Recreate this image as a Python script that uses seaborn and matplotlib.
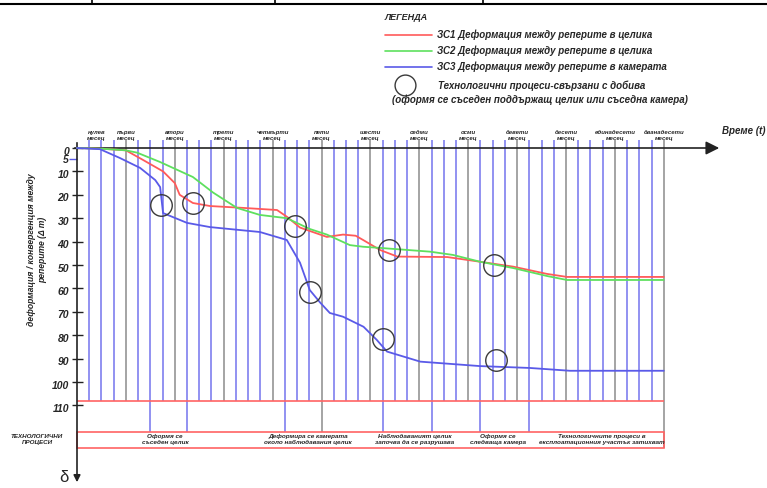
import matplotlib
matplotlib.use('Agg')
import matplotlib.pyplot as plt
import seaborn as sns
import pandas as pd
from matplotlib.patches import Rectangle

sns.set_style('white')
plt.rcParams['font.family'] = ['Liberation Sans', 'DejaVu Sans']

# --- данни (месеци / деформация) ---
months_zs1 = [0, 0.5, 1.0, 1.35, 1.76, 2.0, 2.1, 2.37, 2.72, 3.4, 4.09, 4.3, 4.56, 5.11, 5.44,
              5.7, 5.85, 6.2, 6.55, 7.57, 8.24, 8.92, 9.61, 10.02, 12.0]
def_zs1 = [0, 0.3, 1, 5.1, 10, 15, 20, 23.5, 24.8, 25.6, 26.5, 29.5, 34, 38, 37,
           37.5, 39.3, 43.6, 46.4, 46.6, 48.6, 50.7, 53.8, 55.1, 55.1]

months_zs2 = [0, 0.5, 1.0, 1.23, 1.7, 2.37, 2.78, 3.27, 3.74, 4.29, 4.76, 5.11, 5.58, 5.85,
              6.2, 7.22, 7.69, 8.24, 8.92, 9.61, 10.02, 12.0]
def_zs2 = [0, 0.3, 1, 2, 6, 12.4, 19, 25.6, 28.6, 30, 34.6, 37, 41.5, 42.2,
           42.7, 44.3, 45.7, 48.6, 51.3, 54.7, 56.4, 56.4]

months_zs3 = [0, 0.47, 0.88, 1.29, 1.6, 1.7, 1.76, 2.25, 2.72, 3.74, 4.29, 4.56, 4.76, 4.97,
              5.17, 5.44, 5.86, 6.13, 6.34, 7.02, 8.24, 9.26, 10.08, 12.0]
def_zs3 = [0, 0.5, 4.3, 8.5, 13.7, 16.7, 27.8, 32, 33.8, 35.9, 39.3, 49, 60.7, 66,
           70.5, 72.1, 76.4, 82, 87, 91.3, 93.2, 94, 95.2, 95.2]

circle_months = [1.72, 2.37, 4.46, 4.76, 6.38, 6.26, 8.53, 8.57]
circle_def = [24.4, 23.5, 33.3, 61.4, 43.6, 81.6, 50, 90.6]

series_names = ['ЗС1 Деформация между реперите в целика',
                'ЗС2 Деформация между реперите в целика',
                'ЗС3 Деформация между реперите в камерата']
series_colors = ['#ff5a5a', '#5ee05e', '#5a5ae8']

y_ticks = [0, 10, 20, 30, 40, 50, 60, 70, 80, 90, 100, 110]
month_labels = ['нулев\nмесец', 'първи\nмесец', 'втори\nмесец', 'трети\nмесец', 'четвърти\nмесец',
                'пети\nмесец', 'шести\nмесец', 'седми\nмесец', 'осми\nмесец', 'девети\nмесец',
                'десети\nмесец', 'единадесети\nмесец', 'дванадесети\nмесец']
month_label_pos = [0.4, 1, 2, 3, 4, 5, 6, 7, 8, 9, 10, 11, 12]

process_pos = [1.8, 4.72, 6.91, 8.61, 10.74]
process_labels = ['Оформя се\nсъседен целик',
                  'Деформира се камерата\nоколо наблюдавания целик',
                  'Наблюдаваният целик\nзапочва да се разрушава',
                  'Оформя се\nследваща камера',
                  'Технологичните процеси в\nексплоатационния участък затихват']
long_weeks = [6, 9, 17, 20, 25, 29, 33, 37]
limit_line = 108.3

# --- геометрия (пиксели -> данни) ---
W, H = 767, 488
X0, MPX = 77, 48.9      # x на оста, пиксели за месец
Y0, UPX = 148, 2.34     # y на нулата, пиксели за единица


def mx(px):
    return (px - X0) / MPX


def my(py):
    return (py - Y0) / UPX


fig = plt.figure(figsize=(W / 100, H / 100), dpi=100)
ax = fig.add_axes([0, 0, 1, 1])

BI = dict(fontweight='bold', fontstyle='italic')

# решетка по седмици
for k in range(1, 49):
    m = k / 4
    col = '#8c8c8c' if k % 4 == 0 else '#7474ee'
    bottom = limit_line
    if k in long_weeks:
        bottom = my(431.5)
    if k == 48:
        bottom = my(448)
    ax.vlines(m, my(140), bottom, color=col, lw=1.1, zorder=1)

ax.hlines(limit_line, 0, 12, color='#ff6464', lw=1.2, zorder=2)
ax.add_patch(Rectangle((0, my(431.5)), 12, my(447.5) - my(431.5),
                       fill=False, ec='#ff6464', lw=1.2, zorder=2))

# криви
df = pd.concat([
    pd.DataFrame({'month': months_zs1, 'def': def_zs1, 'series': series_names[0]}),
    pd.DataFrame({'month': months_zs2, 'def': def_zs2, 'series': series_names[1]}),
    pd.DataFrame({'month': months_zs3, 'def': def_zs3, 'series': series_names[2]}),
])
sns.lineplot(data=df, x='month', y='def', hue='series', sort=False, estimator=None,
             palette=dict(zip(series_names, series_colors)), lw=1.3, legend=False,
             ax=ax, zorder=4)
ax.plot(circle_months, circle_def, 'o', mfc='none', mec='#3a3a3a', ms=15.5, mew=1.0, zorder=5)

# оси
ax.annotate('', xy=(mx(722), 0), xytext=(mx(72), 0),
            arrowprops=dict(arrowstyle='-|>', color='#222222', lw=1.2, mutation_scale=20), zorder=3)
ax.annotate('', xy=(0, my(485)), xytext=(0, my(140)),
            arrowprops=dict(arrowstyle='-|>', color='#222222', lw=1.2, mutation_scale=10), zorder=3)
for v in y_ticks:
    ax.hlines(v, mx(72), mx(83), color='#222222', lw=1.0, zorder=3)
    ax.text(mx(69), v + 1.5, str(v), ha='right', va='center', fontsize=7.5, **BI)
ax.text(mx(69), 5.2, '5', ha='right', va='center', fontsize=7.5, **BI)
ax.hlines(4.5, mx(69), 0, color='#5a5ae8', lw=1.0)

ax.text(mx(37), my(250), 'деформация / конвергенция между\nреперите (Δ m)', rotation=90,
        ha='center', va='center', fontsize=6.2, linespacing=1.3, **BI)

for m, lab in zip(month_label_pos, month_labels):
    ax.text(m, my(141), lab, ha='center', va='bottom', fontsize=4.3, linespacing=1.3, **BI)
ax.text(mx(722), my(131), 'Време (t)', ha='left', va='center', fontsize=7, **BI)
ax.text(mx(64), my(477), 'δ', ha='center', va='center', fontsize=12)

# технологични процеси
ax.text(mx(37), my(439.5), 'ТЕХНОЛОГИЧНИ\nПРОЦЕСИ', ha='center', va='center',
        fontsize=4.5, linespacing=1.4, **BI)
for m, lab in zip(process_pos, process_labels):
    ax.text(m, my(439.5), lab, ha='center', va='center', fontsize=4.6, linespacing=1.35, **BI)

# легенда
ax.text(mx(385), my(17), 'ЛЕГЕНДА', ha='left', va='center', fontsize=6.5, **BI)
for py, col, name in zip([35, 51, 67], series_colors, series_names):
    ax.plot([mx(385), mx(432)], [my(py), my(py)], color=col, lw=1.2)
    ax.text(mx(437), my(py), name, ha='left', va='center', fontsize=7, **BI)
ax.plot([mx(405)], [my(85)], 'o', mfc='none', mec='#3a3a3a', ms=15, mew=1.0)
ax.text(mx(438), my(86), 'Технологични процеси-свързани с добива', ha='left', va='center',
        fontsize=7, **BI)
ax.text(mx(392), my(100), '(оформя се съседен поддържащ целик или съседна камера)',
        ha='left', va='center', fontsize=7, **BI)

# рамка отгоре
ax.hlines(my(4), mx(0), mx(W), color='black', lw=1.5)
for px in [92, 275, 483]:
    ax.vlines(mx(px), my(0), my(4), color='black', lw=1.2)

ax.set_xlim(mx(0), mx(W))
ax.set_ylim(my(H), my(0))
ax.axis('off')

fig.savefig('out.png', dpi=100)
plt.close(fig)
